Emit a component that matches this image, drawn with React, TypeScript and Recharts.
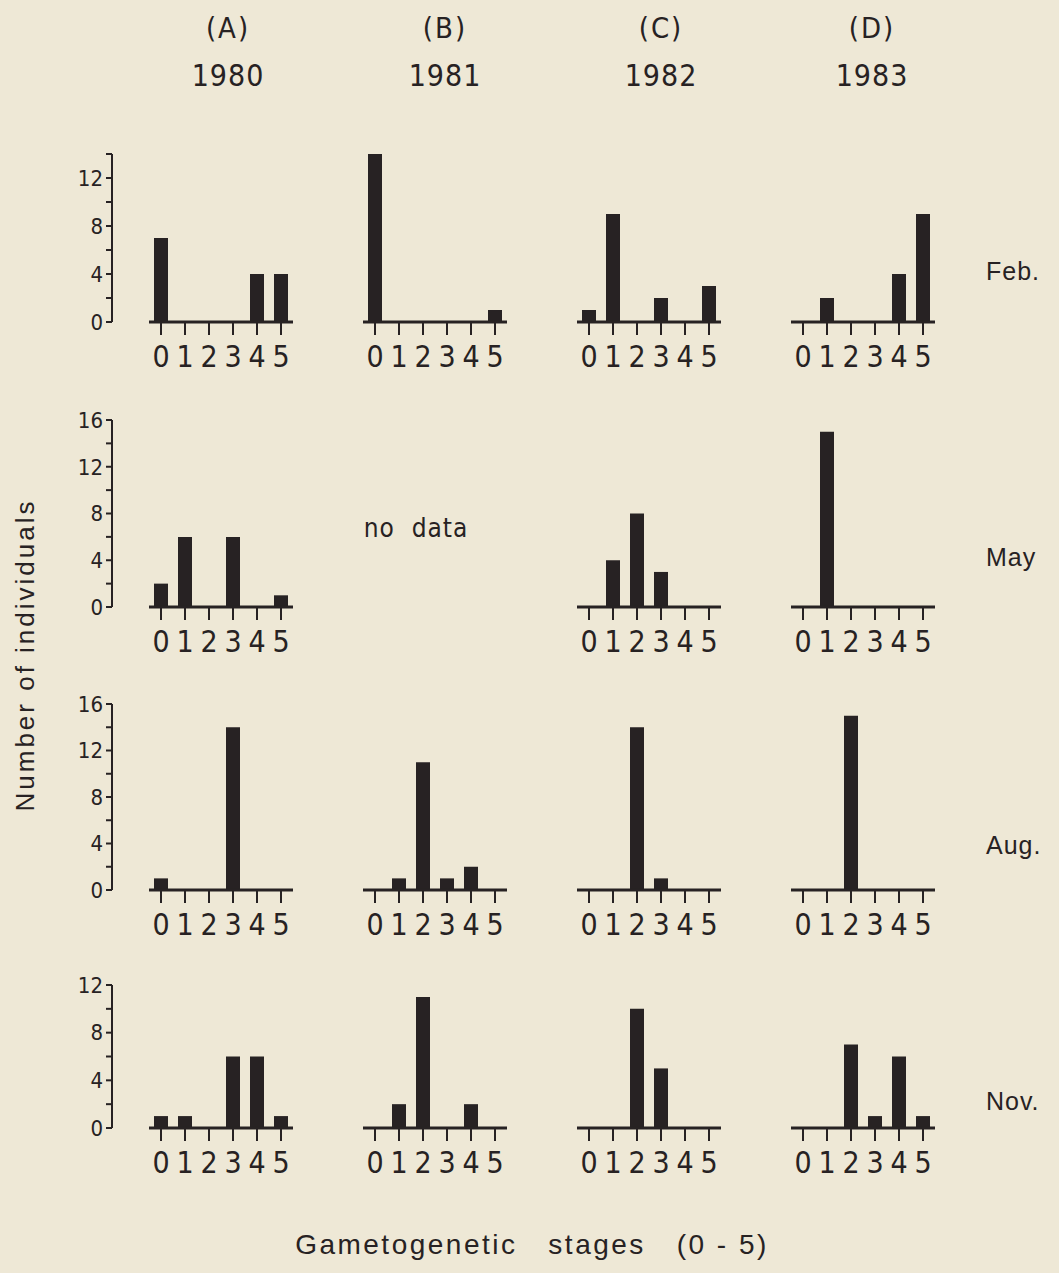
import { BarChart, Bar, XAxis, YAxis } from 'recharts'

const stages = ['0', '1', '2', '3', '4', '5']
const columnLetters = ['(A)', '(B)', '(C)', '(D)']
const years = ['1980', '1981', '1982', '1983']
const months = ['Feb.', 'May', 'Aug.', 'Nov.']

// number of individuals per gametogenetic stage (0-5); null = no data
const feb1980 = [7, 0, 0, 0, 4, 4]
const feb1981 = [14, 0, 0, 0, 0, 1]
const feb1982 = [1, 9, 0, 2, 0, 3]
const feb1983 = [0, 2, 0, 0, 4, 9]

const may1980 = [2, 6, 0, 6, 0, 1]
const may1981 = null
const may1982 = [0, 4, 8, 3, 0, 0]
const may1983 = [0, 15, 0, 0, 0, 0]

const aug1980 = [1, 0, 0, 14, 0, 0]
const aug1981 = [0, 1, 11, 1, 2, 0]
const aug1982 = [0, 0, 14, 1, 0, 0]
const aug1983 = [0, 0, 15, 0, 0, 0]

const nov1980 = [1, 1, 0, 6, 6, 1]
const nov1981 = [0, 2, 11, 0, 2, 0]
const nov1982 = [0, 0, 10, 5, 0, 0]
const nov1983 = [0, 0, 7, 1, 6, 1]

const rowData = [
  [feb1980, feb1981, feb1982, feb1983],
  [may1980, may1981, may1982, may1983],
  [aug1980, aug1981, aug1982, aug1983],
  [nov1980, nov1981, nov1982, nov1983],
]
const rowMax = [14, 16, 16, 12]

// layout (page pixels)
const colLeft = [149, 363, 577, 791]
const rowTop = [154, 420, 704, 985]
const rowBase = [322, 607, 890, 1128]
const titleX = [228, 445, 661, 872]
const monthY = [271, 557, 845, 1101]

const INK = '#272223'
const BG = '#eee8d6'
const NARROW = "'Liberation Sans Narrow', 'Arial Narrow', 'DejaVu Sans Condensed', sans-serif"
const WIDE = "'Liberation Sans', Arial, sans-serif"
const PLOT_W = 144
const M = 10
const AXIS_H = 60

const toRows = (vals: number[]) => stages.map((s, i) => ({ stage: s, count: vals[i] }))

function Panel({ vals, left, top, base, yMax }: {
  vals: number[]; left: number; top: number; base: number; yMax: number
}) {
  const h = base - top
  return (
    <div style={{ position: 'absolute', left: left - M, top: top - M }}>
      <BarChart width={PLOT_W + 2 * M} height={M + h + AXIS_H} data={toRows(vals)}
        margin={{ top: M, right: M, bottom: 0, left: M }}>
        <XAxis dataKey="stage" height={AXIS_H} interval={0} tickSize={13} tickMargin={11}
          axisLine={{ stroke: INK, strokeWidth: 3 }}
          tickLine={{ stroke: INK, strokeWidth: 2 }}
          tick={{ fill: INK, fontSize: 30, fontFamily: NARROW }} />
        <YAxis hide domain={[0, yMax]} allowDataOverflow />
        <Bar dataKey="count" fill={INK} barSize={14} isAnimationActive={false} />
      </BarChart>
    </div>
  )
}

// left-hand count axis, drawn only beside column (A)
function Scale({ vals, top, base, yMax }: { vals: number[]; top: number; base: number; yMax: number }) {
  const h = base - top
  const w = 50
  const pad = 20
  const ticks = Array.from({ length: yMax / 2 + 1 }, (_, i) => i * 2)
  return (
    <div style={{ position: 'absolute', left: 112 - w, top: top - pad }}>
      <BarChart width={w + 4} height={h + 2 * pad} data={toRows(vals)}
        margin={{ top: pad, right: 0, bottom: pad, left: 0 }}>
        <XAxis dataKey="stage" hide />
        <YAxis width={w} domain={[0, yMax]} ticks={ticks} interval={0} tickSize={6} tickMargin={3}
          allowDataOverflow
          tickFormatter={(v: number) => (v % 4 === 0 ? String(v) : '')}
          axisLine={{ stroke: INK, strokeWidth: 2 }}
          tickLine={{ stroke: INK, strokeWidth: 2 }}
          tick={{ fill: INK, fontSize: 22, fontFamily: NARROW }} />
        <Bar dataKey="count" fill="none" isAnimationActive={false} />
      </BarChart>
    </div>
  )
}

const Text = ({ x, y, children, size, family, style }: {
  x: number; y: number; children: string; size: number; family: string; style?: React.CSSProperties
}) => (
  <div style={{
    position: 'absolute', left: x, top: y, transform: 'translate(-50%, -50%)',
    fontSize: size, fontFamily: family, color: INK, whiteSpace: 'pre', lineHeight: 1, ...style,
  }}>{children}</div>
)

export default function App() {
  return (
    <div style={{ position: 'absolute', left: 0, top: 0, width: 1059, height: 1273, background: BG, overflow: 'hidden' }}>
      {columnLetters.map((c, i) => (
        <Text key={c} x={titleX[i]} y={28} size={29} family={NARROW} style={{ letterSpacing: 2 }}>{c}</Text>
      ))}
      {years.map((y, i) => (
        <Text key={y} x={titleX[i]} y={76} size={30} family={NARROW} style={{ letterSpacing: 1 }}>{y}</Text>
      ))}
      {months.map((m, i) => (
        <div key={m} style={{
          position: 'absolute', left: 986, top: monthY[i], transform: 'translateY(-50%)',
          fontSize: 25, fontFamily: WIDE, color: INK, lineHeight: 1, letterSpacing: 1,
        }}>{m}</div>
      ))}

      {rowData.map((row, r) => (
        <div key={months[r]}>
          <Scale vals={row[0] as number[]} top={rowTop[r]} base={rowBase[r]} yMax={rowMax[r]} />
          {row.map((vals, c) => vals ? (
            <Panel key={years[c]} vals={vals} left={colLeft[c]} top={rowTop[r]} base={rowBase[r]} yMax={rowMax[r]} />
          ) : (
            <Text key={years[c]} x={416} y={528} size={26} family={NARROW} style={{ letterSpacing: 1 }}>{'no  data'}</Text>
          ))}
        </div>
      ))}

      <Text x={25} y={655} size={26} family={WIDE}
        style={{ transform: 'translate(-50%, -50%) rotate(-90deg)', letterSpacing: 3 }}>
        Number of individuals
      </Text>
      <Text x={532} y={1245} size={28} family={WIDE} style={{ letterSpacing: 2.5 }}>
        {'Gametogenetic   stages   (0 - 5)'}
      </Text>
    </div>
  )
}
